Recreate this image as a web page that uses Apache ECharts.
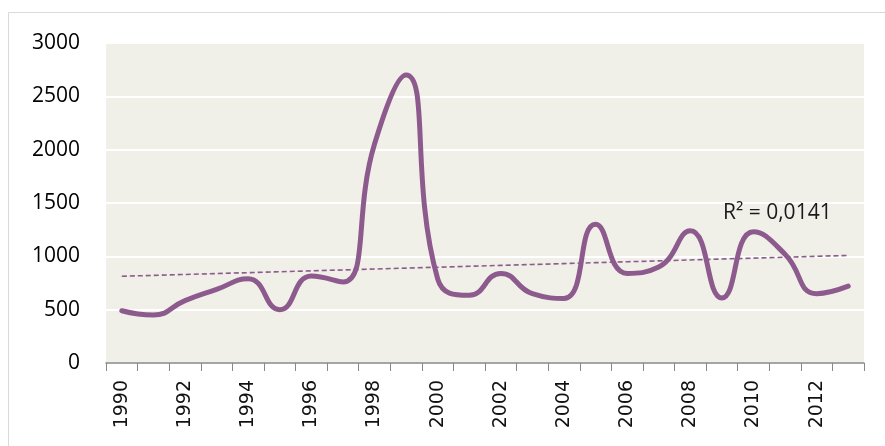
<!DOCTYPE html>
<html>
<head>
<meta charset="utf-8">
<script src="https://cdn.jsdelivr.net/npm/echarts@6/dist/echarts.min.js"></script>
<style>
  html, body { margin: 0; padding: 0; background: #fff; }
  #chart { width: 885px; height: 446px; }
</style>
</head>
<body>
<div id="chart"></div>
<script>
const years = ["1990", "1991", "1992", "1993", "1994", "1995", "1996", "1997",
  "1998", "1999", "2000", "2001", "2002", "2003", "2004", "2005",
  "2006", "2007", "2008", "2009", "2010", "2011", "2012", "2013"]
const values = [490, 450, 585, 690, 790, 500, 815, 760,
  2050, 2700, 790, 635, 840, 650, 605, 1300,
  840, 900, 1240, 610, 1230, 1020, 650, 720]
const yTicks = [0, 500, 1000, 1500, 2000, 2500, 3000]
const r2Label = "R² = 0,0141"

// linear trendline (least squares) over the series
function trend(vals) {
  const n = vals.length
  const mx = (n - 1) / 2
  const my = vals.reduce((a, b) => a + b, 0) / n
  let sxy = 0, sxx = 0
  vals.forEach((v, i) => {
    sxy += (i - mx) * (v - my)
    sxx += (i - mx) * (i - mx)
  })
  const k = sxy / sxx
  return vals.map((v, i) => my + k * (i - mx))
}

const purple = "#8c5a8c"
const chart = echarts.init(document.getElementById("chart"))

chart.setOption({
  animation: false,
  graphic: [
    {
      type: "rect",
      shape: { x: 8.5, y: 12.5, width: 890, height: 450 },
      style: { fill: null, stroke: "#d9d9d9", lineWidth: 1 },
      silent: true
    },
    {
      type: "text",
      left: 723,
      top: 203,
      z: 100,
      style: { text: r2Label, fontFamily: "Open Sans", fontSize: 21, fill: "#1a1a1a" }
    }
  ],
  grid: {
    left: 106, right: 21, top: 43, bottom: 83,
    show: true, backgroundColor: "#f0efe8", borderWidth: 0
  },
  xAxis: {
    type: "category",
    data: years,
    boundaryGap: true,
    axisLine: { lineStyle: { color: "#888", width: 1.5 } },
    axisTick: { show: true, length: 8, inside: false, interval: 0, lineStyle: { color: "#888" } },
    axisLabel: {
      interval: 1,
      rotate: 90,
      margin: 17,
      fontFamily: "DejaVu Sans",
      fontSize: 19,
      color: "#111"
    },
    splitLine: { show: false }
  },
  yAxis: {
    type: "value",
    min: yTicks[0],
    max: yTicks[yTicks.length - 1],
    interval: 500,
    axisLine: { show: false },
    axisTick: { show: false },
    axisLabel: {
      margin: 26,
      fontFamily: "Open Sans",
      fontSize: 21,
      color: "#000",
      formatter: v => String(v)
    },
    splitLine: { lineStyle: { color: "#ffffff", width: 2 } }
  },
  series: [
    {
      type: "line",
      data: values,
      smooth: 0.5,
      symbol: "none",
      lineStyle: { color: purple, width: 5, cap: "round", join: "round" }
    },
    {
      type: "line",
      data: trend(values),
      symbol: "none",
      lineStyle: { color: purple, width: 1.6, type: [5, 3] }
    }
  ]
})
</script>
</body>
</html>
